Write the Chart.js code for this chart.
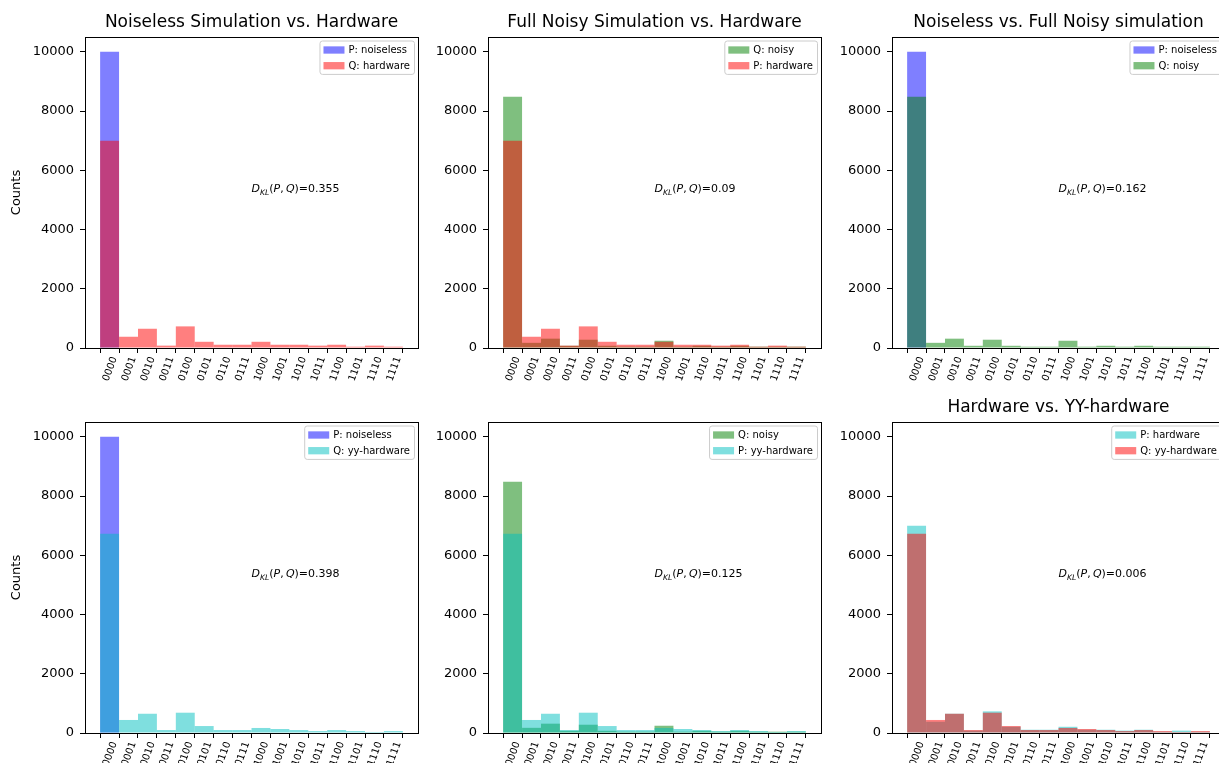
<!DOCTYPE html>
<html>
<head>
<meta charset="utf-8">
<title>Measurement distributions</title>
<script src="https://cdn.jsdelivr.net/npm/chart.js@4.4.1/dist/chart.umd.min.js"></script>
<style>
  html, body { margin: 0; padding: 0; background: #fff; overflow: hidden; }
  #fig { position: relative; width: 1219px; height: 763px; overflow: hidden; background: #fff; }
  #fig canvas { position: absolute; }
</style>
</head>
<body>
<div id="fig"></div>
<script>
// Measured bitstrings (4 qubits) and the counts per outcome, 10000 shots each
const bitstrings = ['0000', '0001', '0010', '0011', '0100', '0101', '0110', '0111',
                    '1000', '1001', '1010', '1011', '1100', '1101', '1110', '1111'];
const noiselessCounts  = [10000, 0, 0, 0, 0, 0, 0, 0, 0, 0, 0, 0, 0, 0, 0, 0];
const hardwareCounts   = [7000, 380, 650, 80, 730, 210, 110, 110, 210, 110, 110, 80, 110, 45, 80, 45];
const noisyCounts      = [8480, 175, 315, 75, 280, 75, 45, 45, 245, 45, 75, 45, 75, 45, 45, 45];
const yyHardwareCounts = [6730, 440, 650, 100, 685, 235, 100, 100, 170, 135, 100, 65, 100, 65, 35, 65];
const klDivergences    = [0.355, 0.09, 0.162, 0.398, 0.125, 0.006];
const countTicks       = [0, 2000, 4000, 6000, 8000, 10000];
const outcomeTicks     = [0, 1, 2, 3, 4, 5, 6, 7, 8, 9, 10, 11, 12, 13, 14, 15, 16];

const BLUE  = 'rgba(0, 0, 255, 0.5)';
const RED   = 'rgba(255, 0, 0, 0.5)';
const GREEN = 'rgba(0, 128, 0, 0.5)';
const CYAN  = 'rgba(0, 191, 191, 0.5)';

const panels = [
  { title: 'Noiseless Simulation vs. Hardware', yLabel: true, kl: klDivergences[0],
    series: [{ label: 'P: noiseless', data: noiselessCounts, color: BLUE },
             { label: 'Q: hardware', data: hardwareCounts, color: RED }] },
  { title: 'Full Noisy Simulation vs. Hardware', yLabel: false, kl: klDivergences[1],
    series: [{ label: 'Q: noisy', data: noisyCounts, color: GREEN },
             { label: 'P: hardware', data: hardwareCounts, color: RED }] },
  { title: 'Noiseless vs. Full Noisy simulation', yLabel: false, kl: klDivergences[2],
    series: [{ label: 'P: noiseless', data: noiselessCounts, color: BLUE },
             { label: 'Q: noisy', data: noisyCounts, color: GREEN }] },
  { title: '', yLabel: true, kl: klDivergences[3],
    series: [{ label: 'P: noiseless', data: noiselessCounts, color: BLUE },
             { label: 'Q: yy-hardware', data: yyHardwareCounts, color: CYAN }] },
  { title: '', yLabel: false, kl: klDivergences[4],
    series: [{ label: 'Q: noisy', data: noisyCounts, color: GREEN },
             { label: 'P: yy-hardware', data: yyHardwareCounts, color: CYAN }] },
  { title: 'Hardware vs. YY-hardware', yLabel: false, kl: klDivergences[5],
    series: [{ label: 'P: hardware', data: hardwareCounts, color: CYAN },
             { label: 'Q: yy-hardware', data: yyHardwareCounts, color: RED }] }
];

// Figure grid geometry (pixels)
const PLOT_W = 333, PLOT_H = 311;
const COL_LEFT = [85, 488, 892];
const ROW_TOP = [37, 422];
const Y_AXIS_W = 85, TITLE_H = 37, X_AXIS_H = 42, RIGHT_PAD = 6;

const FONT = '"DejaVu Sans", sans-serif';
Chart.defaults.font.family = FONT;
Chart.defaults.color = '#000';

// Black box around the plotting area
const framePlugin = {
  id: 'frame',
  afterDatasetsDraw(chart) {
    const { ctx, chartArea: a } = chart;
    ctx.save();
    ctx.strokeStyle = '#000';
    ctx.lineWidth = 1;
    const l = Math.round(a.left) + 0.5, t = Math.round(a.top) + 0.5;
    const r = Math.round(a.right) + 0.5, b = Math.round(a.bottom) + 0.5;
    ctx.strokeRect(l, t, r - l, b - t);
    ctx.restore();
  }
};

// D_KL(P, Q)=value annotation, placed in data coordinates
const klPlugin = {
  id: 'klText',
  afterDatasetsDraw(chart, args, opts) {
    const { ctx } = chart;
    const x0 = chart.scales.x.getPixelForValue(7.5);
    const yc = chart.scales.y.getPixelForValue(5400);
    const fs = 11;
    const base = yc + fs * 0.36;
    const runs = [
      { t: 'D', it: true, s: fs, dy: 0 },
      { t: 'KL', it: true, s: fs * 0.7, dy: fs * 0.25 },
      { t: '(', it: false, s: fs, dy: 0 },
      { t: 'P', it: true, s: fs, dy: 0 },
      { t: ',\u2009', it: false, s: fs, dy: 0 },
      { t: 'Q', it: true, s: fs, dy: 0 },
      { t: ')', it: false, s: fs, dy: 0 },
      { t: '=' + String(opts.value), it: false, s: fs, dy: 0 }
    ];
    ctx.save();
    ctx.fillStyle = '#000';
    ctx.textBaseline = 'alphabetic';
    ctx.textAlign = 'left';
    let x = x0;
    runs.forEach(run => {
      ctx.font = (run.it ? 'oblique ' : '') + run.s + 'px ' + FONT;
      ctx.fillText(run.t, x, base + run.dy);
      x += ctx.measureText(run.t).width;
    });
    ctx.restore();
  }
};

// Framed legend in the upper-right corner of the plotting area
const boxLegendPlugin = {
  id: 'boxLegend',
  afterDraw(chart) {
    const { ctx, chartArea: a } = chart;
    const items = chart.data.datasets;
    const fs = 10, pad = 4, handleW = 21, handleH = 7.3, gap = 4, rowH = 15.7;
    ctx.save();
    ctx.font = fs + 'px ' + FONT;
    const textW = Math.max(...items.map(d => ctx.measureText(d.label).width));
    const w = pad + handleW + gap + textW + pad;
    const h = 9.5 + rowH * (items.length - 1) + 8.2;
    const right = a.right - 4, top = a.top + 3.5, left = right - w;
    ctx.beginPath();
    ctx.roundRect(left + 0.5, top + 0.5, w, h, 2.5);
    ctx.fillStyle = 'rgba(255,255,255,0.8)';
    ctx.fill();
    ctx.strokeStyle = '#cccccc';
    ctx.lineWidth = 1;
    ctx.stroke();
    ctx.textBaseline = 'middle';
    ctx.textAlign = 'left';
    items.forEach((d, i) => {
      const cy = top + 9.5 + i * rowH;
      ctx.fillStyle = d.backgroundColor;
      ctx.fillRect(left + pad, cy - handleH / 2, handleW, handleH);
      ctx.fillStyle = '#000';
      ctx.fillText(d.label, left + pad + handleW + gap, cy + 0.5);
    });
    ctx.restore();
  }
};

const fig = document.getElementById('fig');

panels.forEach((p, idx) => {
  const row = Math.floor(idx / 3), col = idx % 3;
  const canvas = document.createElement('canvas');
  const cw = Y_AXIS_W + PLOT_W + RIGHT_PAD;
  const ch = TITLE_H + PLOT_H + X_AXIS_H;
  canvas.width = cw;
  canvas.height = ch;
  canvas.style.width = cw + 'px';
  canvas.style.height = ch + 'px';
  canvas.style.left = (COL_LEFT[col] - Y_AXIS_W) + 'px';
  canvas.style.top = (ROW_TOP[row] - TITLE_H) + 'px';
  fig.appendChild(canvas);

  const n = p.series.length;
  const tickMarks = { display: true, drawOnChartArea: false, drawTicks: true, tickLength: 5, color: '#000', lineWidth: 1 };

  new Chart(canvas, {
    type: 'bar',
    data: {
      datasets: p.series.map((s, i) => ({
        label: s.label,
        data: s.data.map((v, k) => ({ x: k, y: v })),
        backgroundColor: s.color,
        borderWidth: 0,
        barPercentage: 1,
        categoryPercentage: 1,
        grouped: false,
        inflateAmount: 0,
        order: n - 1 - i
      }))
    },
    options: {
      responsive: false,
      animation: false,
      devicePixelRatio: 1,
      layout: { padding: { top: p.title ? 0 : TITLE_H, right: RIGHT_PAD, left: 0, bottom: 0 } },
      plugins: {
        legend: { display: false },
        tooltip: { enabled: false },
        title: {
          display: !!p.title,
          text: p.title,
          fullSize: false,
          align: 'center',
          color: '#000',
          font: { size: 17, weight: 'normal', lineHeight: 1.2 },
          padding: { top: 12, bottom: 4.6 }
        },
        klText: { value: p.kl }
      },
      scales: {
        x: {
          type: 'linear',
          min: -1.3,
          max: 16.3,
          offset: false,
          afterBuildTicks: s => { s.ticks = outcomeTicks.map(v => ({ value: v })); },
          afterFit: s => { s.height = X_AXIS_H; s.paddingLeft = 0; s.paddingRight = 0; },
          grid: tickMarks,
          border: { display: false },
          ticks: {
            autoSkip: false,
            minRotation: 70,
            maxRotation: 70,
            padding: 2,
            labelOffset: 5,
            color: '#000',
            font: { size: 10 },
            callback: v => (bitstrings[v] !== undefined ? bitstrings[v] : '')
          }
        },
        y: {
          type: 'linear',
          min: 0,
          max: 10500,
          afterBuildTicks: s => { s.ticks = countTicks.map(v => ({ value: v })); },
          afterFit: s => { s.width = Y_AXIS_W; },
          grid: tickMarks,
          border: { display: false },
          ticks: { color: '#000', padding: 6, font: { size: 13 }, callback: v => String(v) },
          title: {
            display: p.yLabel,
            text: 'Counts',
            color: '#000',
            font: { size: 13 },
            padding: { top: 9, bottom: 0 }
          }
        }
      }
    },
    plugins: [framePlugin, klPlugin, boxLegendPlugin]
  });
});
</script>
</body>
</html>
